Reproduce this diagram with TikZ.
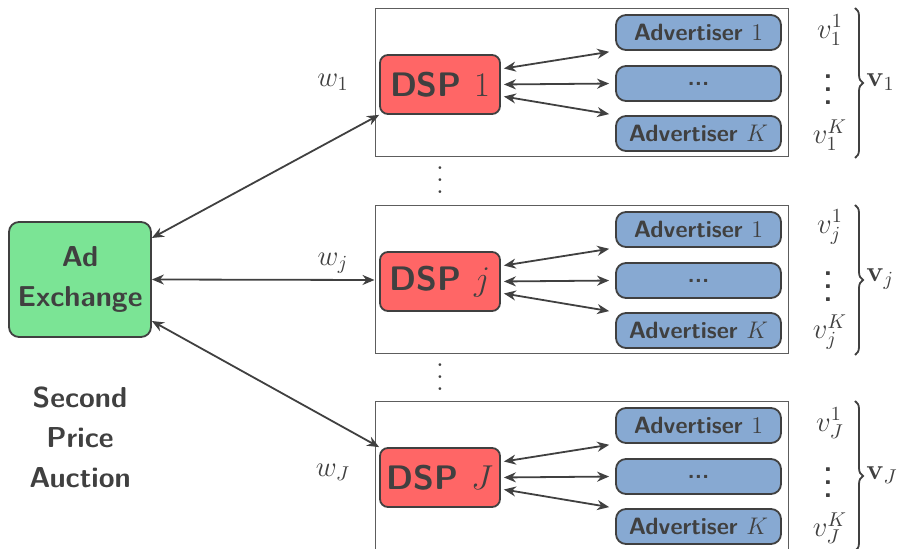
\documentclass[tikz,border=0pt]{standalone}
\usetikzlibrary{arrows.meta,decorations.pathreplacing,calc}
\definecolor{txt}{HTML}{404040}
\definecolor{gfill}{HTML}{7BE495}
\definecolor{rfill}{HTML}{FF6666}
\definecolor{bfill}{HTML}{87A9D2}
\newcommand{\sqdots}{\vbox{\sffamily\bfseries\fontsize{14.4}{17}\selectfont\baselineskip=6.5pt\hbox{.}\hbox{.}\hbox{.}}}
\newcommand{\rmdots}{\vbox{\baselineskip=6pt\hbox{.}\hbox{.}\hbox{.}}}
\begin{document}
\begin{tikzpicture}[x=0.5pt,y=-0.5pt,
  every node/.style={text=txt},
  basebox/.style={draw=txt, line width=0.9pt, inner sep=0pt, font=\sffamily\bfseries},
  axbox/.style={basebox, fill=gfill, rounded corners=5pt, minimum width=71pt, minimum height=57.5pt, align=center, font=\sffamily\bfseries\fontsize{14.4}{20}\selectfont},
  dspbox/.style={basebox, fill=rfill, rounded corners=4pt, minimum width=60pt, minimum height=29.5pt, font=\sffamily\bfseries\fontsize{17}{20}\selectfont},
  advbox/.style={basebox, fill=bfill, rounded corners=5pt, minimum width=82.5pt, minimum height=17.5pt, font=\sffamily\bfseries\fontsize{11.8}{14}\selectfont},
  grpbox/.style={draw=txt!85, line width=0.5pt, minimum width=206.5pt, minimum height=74pt, inner sep=0pt},
  mlabel/.style={font=\fontsize{14.4}{17}\selectfont, inner sep=0pt},
  conn/.style={{Stealth[length=6pt,width=5pt]}-{Stealth[length=6pt,width=5pt]}, line width=0.9pt, draw=txt},
  brc/.style={decorate, decoration={brace, amplitude=4pt}, line width=0.9pt, draw=txt}
]
\useasboundingbox (0,0) rectangle (901,549);

\node[axbox] (ax) at (80,279.5) {Ad\\Exchange};
\node[align=center, font=\sffamily\bfseries\fontsize{14.4}{20}\selectfont] (spa) at (80,437) {Second\\Price\\Auction};

\foreach \i/\y/\lab in {1/0/1, 2/197/j, 3/393/J}{
  \node[grpbox] (g\i) at (581.5,{83+\y}) {};
  \node[dspbox] (d\i) at (440,{84.5+\y}) {DSP $\lab$};
  \node[advbox] (a\i1) at (698.5,{32.5+\y}) {Advertiser $1$};
  \node[advbox] (a\i2) at (698.5,{83.5+\y}) {...};
  \node[advbox] (a\i3) at (698.5,{133.5+\y}) {Advertiser $K$};
  \draw[conn, shorten <=1.5pt, shorten >=3pt] ([yshift=7.75pt]d\i.east) -- (a\i1.south west);
  \draw[conn, shorten <=1.5pt, shorten >=3pt] (d\i.east) -- (a\i2.west);
  \draw[conn, shorten <=1.5pt, shorten >=3pt] ([yshift=-5.75pt]d\i.east) -- (a\i3.north west);
  \node[mlabel] (vt\i) at (830,{30+\y}) {$v_{\lab}^{1}$};
  \node[inner sep=0pt] (vd\i) at (828,{90+\y}) {\sqdots};
  \node[mlabel] (vb\i) at (830,{135+\y}) {$v_{\lab}^{K}$};
  \coordinate (bt\i) at (855,{8+\y});
  \coordinate (bb\i) at (855,{158+\y});
  \draw[brc] (bt\i) -- (bb\i);
  \node[mlabel, anchor=west] (vv\i) at (866,{82+\y}) {$\mathbf{v}_{\lab}$};
}

\node[mlabel] (w1) at (333,82) {$w_1$};
\node[mlabel] (w2) at (333,263) {$w_j$};
\node[mlabel] (w3) at (333,472) {$w_J$};

\node[inner sep=0pt, font=\fontsize{14.4}{17}\selectfont] (dots1) at (440,180) {\rmdots};
\node[inner sep=0pt, font=\fontsize{14.4}{17}\selectfont] (dots2) at (440,377) {\rmdots};

\draw[conn] (ax.30) -- (d1.south west);
\draw[conn] (ax.east) -- (g2.west);
\draw[conn] (ax.-30) -- (d3.north west);
\end{tikzpicture}
\end{document}
